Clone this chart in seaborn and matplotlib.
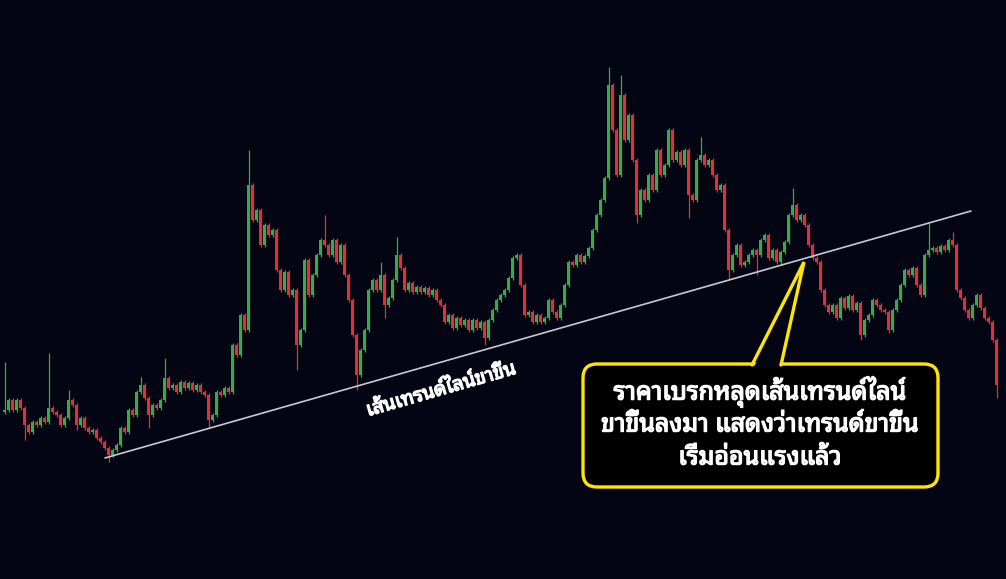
import matplotlib
matplotlib.use("Agg")
import pandas as pd
import matplotlib.pyplot as plt
import matplotlib.patheffects as pe
import seaborn as sns
from matplotlib import font_manager
from matplotlib.ft2font import FT2Font
from matplotlib.patches import FancyBboxPatch, Polygon

sns.set_theme(style="dark")

# close prices, one per candle (open = previous close)
closes = [
    170, 180, 170, 180, 172, 155, 148, 158, 155, 162, 158, 172, 168, 165, 155, 162,
    180, 175, 155, 162, 152, 148, 150, 142, 138, 132, 125, 130, 135, 152, 148, 170,
    165, 188, 195, 182, 165, 175, 172, 180, 202, 192, 195, 188, 198, 192, 197, 190,
    195, 188, 185, 160, 165, 188, 185, 192, 188, 235, 225, 265, 250, 395, 360, 370,
    335, 355, 345, 350, 310, 290, 308, 285, 290, 235, 250, 320, 285, 305, 325, 340,
    335, 325, 340, 318, 335, 305, 280, 245, 205, 230, 250, 290, 300, 290, 305, 275,
    282, 300, 325, 312, 290, 297, 288, 293, 288, 292, 285, 290, 280, 275, 258, 265,
    252, 262, 255, 260, 250, 260, 252, 258, 242, 260, 270, 280, 285, 290, 302, 322,
    325, 295, 265, 268, 258, 265, 258, 262, 280, 268, 262, 275, 295, 318, 315, 325,
    318, 324, 332, 350, 365, 380, 402, 495, 450, 405, 485, 440, 465, 420, 365, 390,
    380, 405, 390, 430, 405, 415, 450, 420, 428, 415, 430, 385, 380, 420, 425, 415,
    420, 405, 390, 395, 350, 310, 325, 335, 315, 318, 325, 330, 325, 340, 345, 322,
    330, 318, 328, 338, 365, 375, 360, 365, 355, 335, 322, 318, 290, 275, 268, 275,
    262, 282, 272, 284, 270, 277, 245, 260, 265, 280, 275, 270, 268, 250, 270, 280,
    295, 310, 305, 312, 295, 285, 325, 330, 332, 328, 334, 330, 340, 335, 290, 282,
    270, 262, 275, 285, 272, 262, 258, 240, 195,
]
first_open = 168

# long wicks (candle index -> price)
spike_highs = {0: 218, 11: 227, 16: 190, 34: 203, 40: 222, 61: 430, 80: 365, 94: 318,
               98: 343, 151: 513, 154: 505, 174: 443, 197: 392, 231: 357, 237: 348}
spike_lows = {5: 140, 18: 150, 26: 118, 36: 152, 51: 152, 73: 210, 88: 190, 95: 262,
              120: 235, 158: 357, 171: 362, 181: 300, 188: 305, 214: 240, 221: 247, 248: 182}

trend_x = [25, 241.5]
trend_y = [122, 369]

trend_label = "เส้นเทรนด์ไลน์ขาขึ้น"
callout_lines = ["ราคาเบรกหลุดเส้นเทรนด์ไลน์",
                 "ขาขึ้นลงมา แสดงว่าเทรนด์ขาขึ้น",
                 "เริ่มอ่อนแรงแล้ว"]

BG = "#030612"
UP = "#3aa84c"
DOWN = "#e0303f"


def thai_family():
    """Pick an installed family that has Thai glyphs, looped style first."""
    found = set()
    for f in font_manager.fontManager.ttflist:
        try:
            cmap = FT2Font(f.fname).get_charmap()
        except Exception:
            continue
        if 0x0E01 in cmap and 0x0E32 in cmap:
            found.add(f.name)
    for pref in ["Tahoma", "Leelawadee UI", "Noto Sans Thai Looped", "Loma",
                 "IBM Plex Sans Thai Looped", "Sarabun", "Noto Sans Thai", "Garuda"]:
        if pref in found:
            return pref
    return sorted(found)[0] if found else "DejaVu Sans"


plt.rcParams["font.family"] = [thai_family(), "DejaVu Sans"]
# thicken glyphs a little, the picture uses a heavy face
heavy = [pe.withStroke(linewidth=1.0, foreground="white")]

df = pd.DataFrame({"close": closes})
df["open"] = [first_open] + closes[:-1]
df["high"] = df[["open", "close"]].max(axis=1) + 2
df["low"] = df[["open", "close"]].min(axis=1) - 2
for i, v in spike_highs.items():
    df.loc[i, "high"] = v
for i, v in spike_lows.items():
    df.loc[i, "low"] = v
df["color"] = [UP if c >= o else DOWN for o, c in zip(df.open, df.close)]
df["body"] = (df.close - df.open).where((df.close - df.open).abs() > 1, 1.5)

fig = plt.figure(figsize=(10.06, 5.79), dpi=100, facecolor=BG)
ax = fig.add_axes([0, 0, 1, 1])
ax.set_facecolor(BG)

ax.vlines(df.index, df.low, df.high, colors=df.color, lw=0.9)
ax.bar(df.index, df.body, bottom=df.open, width=0.75, color=df.color, linewidth=0)

sns.lineplot(x=trend_x, y=trend_y, ax=ax, color="#c8c8d2", lw=1.2)
ax.text(109, 190, trend_label, rotation=16, rotation_mode="anchor", ha="center",
        va="center", color="white", fontsize=14, fontweight="bold", path_effects=heavy)

ax.set_xlim(-1.25, 250.25)
ax.set_ylim(1, 580)
ax.axis("off")

# callout in pixel units
ann = fig.add_axes([0, 0, 1, 1])
ann.set_xlim(0, 1006)
ann.set_ylim(579, 0)
ann.axis("off")
box = FancyBboxPatch((583, 364), 355, 123, boxstyle="round,pad=0,rounding_size=14",
                     facecolor="#000000", edgecolor="#ffe600", lw=2.4)
ann.add_patch(box)
ann.add_patch(Polygon([(754, 367), (804, 263), (779, 367)], closed=True,
                      facecolor=BG, edgecolor="none"))
ann.plot([752, 804, 781], [365, 262, 365], color="#ffe600", lw=2.4,
         solid_joinstyle="miter")
for k, line in enumerate(callout_lines):
    ann.text(760, 392 + 33 * k, line, ha="center", va="center", color="white",
             fontsize=18, fontweight="bold", path_effects=heavy)

fig.savefig("out.png", dpi=100, facecolor=BG)
